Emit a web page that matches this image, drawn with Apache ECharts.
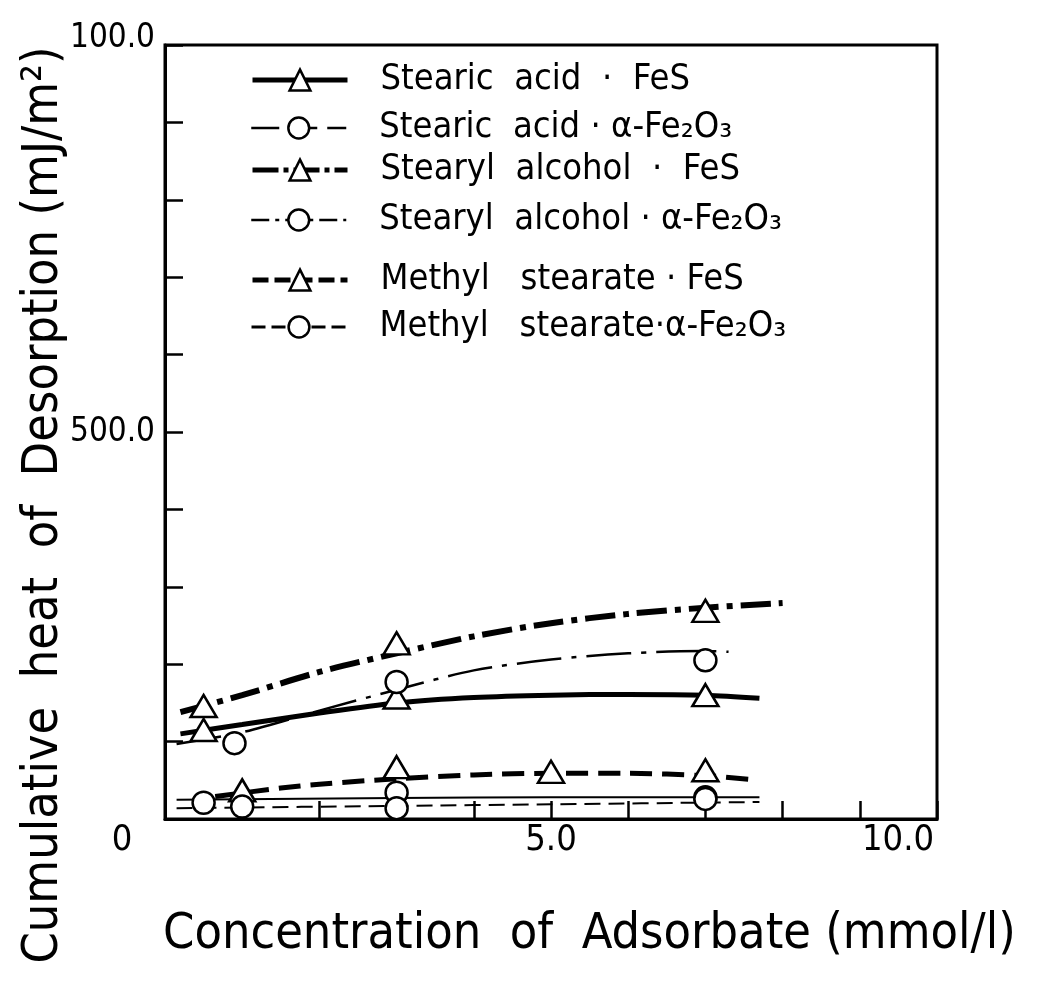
<!DOCTYPE html>
<html><head><meta charset="utf-8">
<script src="https://cdn.jsdelivr.net/npm/echarts@6/dist/echarts.min.js"></script>
<style>html,body{margin:0;padding:0;background:#fff}#c{width:1041px;height:981px}</style>
</head><body><div id="c"></div>
<script>
// ---- data ----
const seriesNames = [
  'Stearic  acid  ·  FeS',
  'Stearic  acid · α-Fe₂O₃',
  'Stearyl  alcohol  ·  FeS',
  'Stearyl  alcohol · α-Fe₂O₃',
  'Methyl   stearate · FeS',
  'Methyl   stearate·α-Fe₂O₃'
];
// fitted curves (x: mmol/l, y: mJ/m2)
const curveStearicFeS    = [[0.2,110],[1,122],[2,137],[3,150],[4,157],[5,160],[6,161],[7,160],[7.7,156]];
const curveStearicFe2O3  = [[0.15,25],[3,27],[5,28],[7.7,28]];
const curveAlcoholFeS    = [[0.2,138],[1,160],[2,190],[3,214],[4,236],[5,253],[6,265],[7,273],[8,279]];
const curveAlcoholFe2O3  = [[0.15,97],[1,112],[2,140],[3,167],[4,192],[5,206],[6,214],[7,217],[7.3,216]];
const curveMethylFeS     = [[0.65,29],[1.5,40],[2,45],[3,52],[4,57],[5,59],[6,59],[7,56],[7.6,51]];
const curveMethylFe2O3   = [[0.15,14],[3,17],[5,19],[7.7,22]];
// measured points
const markStearicFeS     = [[0.5,115],[3,157],[7,160]];
const markStearicFe2O3   = [[0.5,21],[3,34],[7,28]];
const markAlcoholFeS     = [[0.5,146],[3,227],[7,269]];
const markAlcoholFe2O3   = [[0.9,98],[3,177],[7,205]];
const markMethylFeS      = [[1,37],[3,67],[5,61],[7,63]];
const markMethylFe2O3    = [[1,16],[3,14],[7,26]];
const xTickLabels = {0:'0', 5:'5.0', 10:'10.0'};
const yTickLabels = {500:'500.0', 1000:'100.0'};
const xTitle = 'Concentration  of  Adsorbate (mmol/l)';
const yTitle = 'Cumulative  heat  of  Desorption (mJ/m²)';

// ---- styling / build ----
const FONT = "'DejaVu Sans Condensed','DejaVu Sans',sans-serif";
const curves = [curveStearicFeS, curveStearicFe2O3, curveAlcoholFeS, curveAlcoholFe2O3, curveMethylFeS, curveMethylFe2O3];
const marks  = [markStearicFeS, markStearicFe2O3, markAlcoholFeS, markAlcoholFe2O3, markMethylFeS, markMethylFe2O3];
const styles = [
  {sym:'triangle', size:[26,22], width:5,   type:'solid'},
  {sym:'circle',   size:22,      width:2,   type:'solid'},
  {sym:'triangle', size:[26,22], width:6,   type:[30,8,6,8]},
  {sym:'circle',   size:22,      width:2.5, type:[45,10,5,10]},
  {sym:'triangle', size:[26,22], width:5,   type:[22,10]},
  {sym:'circle',   size:22,      width:2,   type:[16,8]}
];
const legendStyles = [
  {width:5, type:'solid'},
  {width:2.5, type:[28,10]},
  {width:5, type:[26,5,5,5]},
  {width:2.5, type:[18,6,4,6]},
  {width:5, type:[16,6]},
  {width:3, type:[14,6]}
];
const legendCenters = [75,123,165,215,275,322];

const series = [];
curves.forEach((c,i)=>{
  const st = styles[i];
  series.push({
    name: seriesNames[i], type:'line', smooth:0.3,
    symbol: st.sym, symbolSize: st.size, showSymbol:false,
    data: c.map(p=>({value:p, symbol:'none'})),
    lineStyle:{color:'#000', width:st.width, type:st.type, cap:'butt'},
    itemStyle:{color:'#fff', borderColor:'#000', borderWidth:2.5},
    z:2, animation:false
  });
});
marks.forEach((m,i)=>{
  const st = styles[i];
  series.push({
    name: seriesNames[i]+' pts', type:'scatter',
    symbol: st.sym, symbolSize: st.size, data: m,
    itemStyle:{color:'#fff', borderColor:'#000', borderWidth:2.5, opacity:1},
    z:5, animation:false
  });
});

const legends = seriesNames.map((n,i)=>({
  data:[n], orient:'vertical', left:245, top:legendCenters[i]-20,
  itemWidth:95, itemHeight:26, selectedMode:false,
  lineStyle:{color:'#000', width:legendStyles[i].width, type:legendStyles[i].type},
  itemStyle:{color:'#fff', borderColor:'#000', borderWidth:2.5},
  textStyle:{fontFamily:FONT, fontSize:36, color:'#000', lineHeight:40, padding:[0,0,0,28]}
}));

const chart = echarts.init(document.getElementById('c'), null, {renderer:'canvas'});
chart.setOption({
  backgroundColor:'#fff',
  animation:false,
  grid:{left:165, right:104, top:45, bottom:162, show:true, borderColor:'#000', borderWidth:3},
  legend: legends,
  xAxis:{
    type:'value', min:0, max:10, interval:1,
    axisLine:{show:true, lineStyle:{color:'#000', width:3}},
    axisTick:{show:true, inside:true, length:18, lineStyle:{color:'#000', width:2.5}},
    splitLine:{show:false},
    axisLabel:{
      margin:4, fontFamily:FONT, fontSize:36, color:'#000',
      formatter:v=>{
        if(!(v in xTickLabels)) return '';
        if(v===0) return '{z|'+xTickLabels[v]+'}';
        if(v===10) return '{t|'+xTickLabels[v]+'}';
        return '{n|'+xTickLabels[v]+'}';
      },
      rich:{
        n:{fontFamily:FONT, fontSize:36, color:'#000'},
        z:{fontFamily:FONT, fontSize:36, color:'#000', padding:[0,86,0,0]},
        t:{fontFamily:FONT, fontSize:36, color:'#000', padding:[0,78,0,0]}
      }
    }
  },
  yAxis:{
    type:'value', min:0, max:1000, interval:100,
    axisLine:{show:true, lineStyle:{color:'#000', width:3}},
    axisTick:{show:true, inside:true, length:18, lineStyle:{color:'#000', width:2.5}},
    splitLine:{show:false},
    axisLabel:{
      margin:10,
      formatter:v=> (v in yTickLabels) ? (v===1000 ? '{t|'+yTickLabels[v]+'}' : '{n|'+yTickLabels[v]+'}') : '',
      rich:{
        n:{fontFamily:FONT, fontSize:33, color:'#000'},
        t:{fontFamily:FONT, fontSize:33, color:'#000', padding:[0,0,14,0]}
      }
    }
  },
  graphic:[
    {type:'text', left:163, top:910, style:{text:xTitle, fontFamily:FONT, fontSize:50, fill:'#000'}},
    {type:'text', x:44, y:505, rotation:Math.PI/2,
     style:{text:yTitle, fontFamily:FONT, fontSize:50, fill:'#000', align:'center', verticalAlign:'middle'}}
  ],
  series: series
});
</script>
</body></html>
